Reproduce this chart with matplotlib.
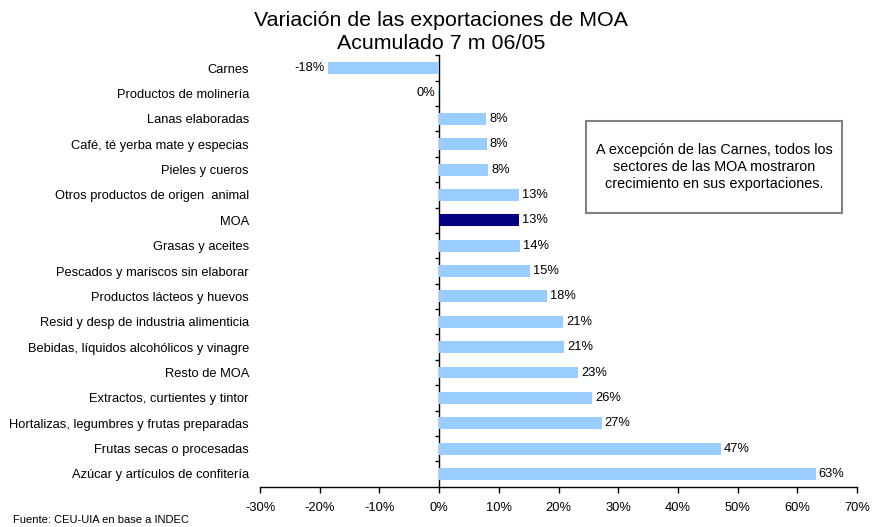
import matplotlib.pyplot as plt
from matplotlib.patches import Rectangle

plt.rcParams['font.family'] = ['Liberation Sans', 'DejaVu Sans']

categorias = [
    "Carnes",
    "Productos de molinería",
    "Lanas elaboradas",
    "Café, té yerba mate y especias",
    "Pieles y cueros",
    "Otros productos de origen  animal",
    "MOA",
    "Grasas y aceites",
    "Pescados y mariscos sin elaborar",
    "Productos lácteos y huevos",
    "Resid y desp de industria alimenticia",
    "Bebidas, líquidos alcohólicos y vinagre",
    "Resto de MOA",
    "Extractos, curtientes y tintor",
    "Hortalizas, legumbres y frutas preparadas",
    "Frutas secas o procesadas",
    "Azúcar y artículos de confitería",
]
variacion = [-18.6, -0.2, 7.9, 8.0, 8.2, 13.4, 13.4, 13.6, 15.2, 18.1,
             20.8, 20.9, 23.3, 25.6, 27.2, 47.2, 63.1]
etiquetas = ["-18%", "0%", "8%", "8%", "8%", "13%", "13%", "14%", "15%", "18%",
             "21%", "21%", "23%", "26%", "27%", "47%", "63%"]
xticks = [-30, -20, -10, 0, 10, 20, 30, 40, 50, 60, 70]

xmin, xmax = -30, 70

fig = plt.figure(figsize=(8.82, 5.27), dpi=100)
ax = fig.add_axes([0.2948, 0.0765, 0.6769, 0.8184])

pos = list(range(len(categorias)))
colores = ["#000080" if c == "MOA" else "#99CCFF" for c in categorias]
ax.barh(pos, variacion, height=0.47, color=colores)

for y, v, t in zip(pos, variacion, etiquetas):
    if v < 0:
        ax.text(v - 0.5, y, t, ha="right", va="center", fontsize=9.3)
    else:
        ax.text(v + 0.5, y, t, ha="left", va="center", fontsize=9.3)

ax.set_xlim(xmin, xmax)
ax.set_ylim(len(categorias) - 0.5, -0.5)
ax.set_xticks(xticks)
ax.set_xticklabels([f"{x}%" for x in xticks], fontsize=9.3)
ax.tick_params(axis="x", length=4, width=1, pad=7, direction="out")

ax.set_yticks(pos)
ax.set_yticklabels(categorias, fontsize=9.3)
ax.tick_params(axis="y", length=0, pad=8)

for s in ["top", "right", "left"]:
    ax.spines[s].set_visible(False)
ax.spines["bottom"].set_linewidth(1)

# eje vertical en el cero, con marcas entre categorias
eje = ax.secondary_yaxis((0 - xmin) / (xmax - xmin))
eje.set_yticks([p + 0.5 for p in pos[:-1]] + [-0.5])
eje.set_yticklabels([])
eje.tick_params(axis="y", length=3, width=1, direction="out")
eje.spines["left"].set_linewidth(1)

fig.text(0.5, 0.939, "Variación de las exportaciones de MOA\nAcumulado 7 m 06/05",
         ha="center", va="center", fontsize=15.4, linespacing=1.25)

fig.patches.append(Rectangle((0.6644, 0.5958), 0.2902, 0.1746, transform=fig.transFigure,
                             fill=False, edgecolor="#808080", linewidth=1.5))
fig.text(0.8095, 0.683, "A excepción de las Carnes, todos los\nsectores de las MOA mostraron\ncrecimiento en sus exportaciones.",
         ha="center", va="center", fontsize=10.4, linespacing=1.3)

fig.text(0.015, 0.008, "Fuente: CEU-UIA en base a INDEC", fontsize=8)

plt.savefig("out.png")
